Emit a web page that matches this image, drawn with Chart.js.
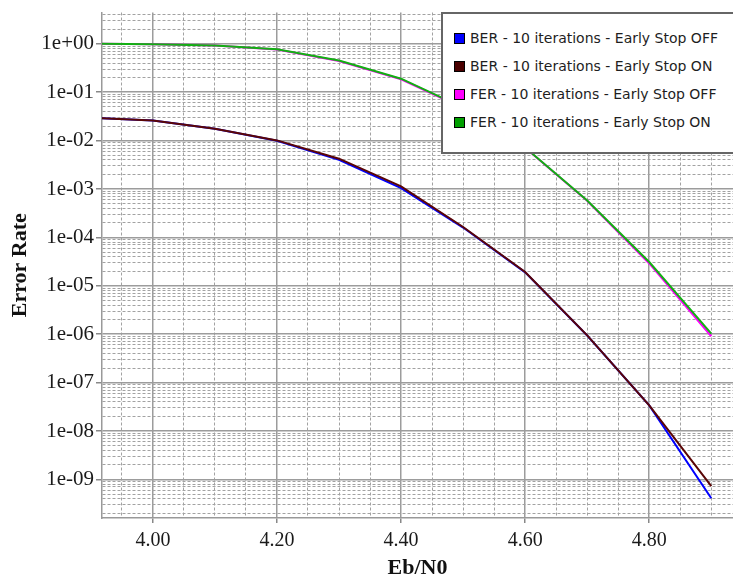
<!DOCTYPE html>
<html>
<head>
<meta charset="utf-8">
<script src="https://cdn.jsdelivr.net/npm/chart.js@4.4.1/dist/chart.umd.min.js"></script>
<style>
  body { margin: 0; background: #fff; overflow: hidden; }
  #wrap { position: relative; width: 733px; height: 579px; overflow: hidden; }
  #legend {
    position: absolute; left: 441px; top: 12px; width: 300px; height: 142px;
    background: #fff; border: 2px solid #666; box-sizing: border-box;
    font-family: 'DejaVu Sans', sans-serif; font-size: 14px; color: #1e1e1e;
  }
  .item { position: absolute; left: 11px; height: 16px; line-height: 16px; white-space: nowrap; }
  .box { display: inline-block; width: 9px; height: 9px; border: 1px solid #000; vertical-align: -1px; margin-right: 5px; }
</style>
</head>
<body>
<div id="wrap">
  <canvas id="errChart" width="733" height="579"></canvas>
  <div id="legend"></div>
</div>
<script>
// Eb/N0 points (dB)
const ebn0 = [3.9, 4.0, 4.1, 4.2, 4.3, 4.4, 4.5, 4.6, 4.7, 4.8, 4.9]
// error rates
const berOff = [0.0298, 0.0261, 0.0176, 0.0099, 0.0040, 0.00104, 1.6e-4, 1.9e-5, 9.4e-7, 3.4e-8, 4.1e-10]
const berOn  = [0.0298, 0.0261, 0.0176, 0.0101, 0.00423, 0.00113, 1.64e-4, 1.93e-5, 9.5e-7, 3.4e-8, 7.3e-10]
const ferOff = [1.0, 0.98, 0.92, 0.76, 0.44, 0.185, 0.047, 0.0071, 5.7e-4, 2.9e-5, 9.1e-7]
const ferOn  = [1.0, 0.98, 0.92, 0.77, 0.45, 0.19, 0.048, 0.0072, 5.8e-4, 3.1e-5, 1.03e-6]

const seriesNames = [
  'BER - 10 iterations - Early Stop OFF',
  'BER - 10 iterations - Early Stop ON',
  'FER - 10 iterations - Early Stop OFF',
  'FER - 10 iterations - Early Stop ON'
]
const seriesColors = ['#0000ff', '#5a0606', '#ff00ff', '#12b012']
const legendColors = ['#0000ff', '#4a0000', '#ff00ff', '#00a000']

// axis ticks
const xLabelled = [4.0, 4.2, 4.4, 4.6, 4.8]
const xGridTicks = [3.95, 4.0, 4.05, 4.1, 4.15, 4.2, 4.25, 4.3, 4.35, 4.4, 4.45, 4.5, 4.55, 4.6, 4.65, 4.7, 4.75, 4.8, 4.85, 4.9]
const yDecades = [0, -1, -2, -3, -4, -5, -6, -7, -8, -9, -10]
const yMin = 1.6e-10
const yMax = 4.43

function toPoints(ys) {
  return ys.map((y, i) => ({ x: ebn0[i], y: y }))
}

function isDecade(v) {
  const l = Math.log10(v)
  return Math.abs(l - Math.round(l)) < 1e-6
}
function isLabelledX(v) {
  return xLabelled.some(t => Math.abs(t - v) < 1e-6)
}

const allSeries = [berOff, berOn, ferOff, ferOn]
const datasets = allSeries.map((ys, i) => ({
  label: seriesNames[i],
  data: toPoints(ys),
  borderColor: seriesColors[i],
  backgroundColor: seriesColors[i],
  borderWidth: 2,
  pointRadius: 0,
  tension: 0,
  // "ON" curves sit on top of the "OFF" ones
  order: (i % 2 == 1) ? 0 : 1
}))

const gridSolid = '#9c9c9c'
const gridDash = '#a2a2a2'

let errChart = new Chart(document.getElementById('errChart').getContext('2d'), {
  type: 'line',
  data: { datasets: datasets },
  options: {
    responsive: false,
    animation: false,
    devicePixelRatio: 1,
    layout: { padding: { top: 12, right: 0, left: 0, bottom: 0 } },
    plugins: { legend: { display: false }, tooltip: { enabled: false } },
    scales: {
      x: {
        type: 'linear',
        min: 3.918,
        max: 4.935,
        afterBuildTicks: (scale) => { scale.ticks = xGridTicks.map(v => ({ value: v })) },
        afterFit: (scale) => { scale.height = 61 },
        ticks: {
          autoSkip: false,
          maxRotation: 0,
          padding: 6,
          color: '#1a1a1a',
          font: { family: 'Liberation Serif', size: 20 },
          callback: (v) => isLabelledX(v) ? v.toFixed(2) : ''
        },
        grid: {
          color: (ctx) => ctx.tick && isLabelledX(ctx.tick.value) ? gridSolid : gridDash,
          lineWidth: (ctx) => ctx.tick && isLabelledX(ctx.tick.value) ? 1.5 : 1,
          tickLength: 5,
          tickColor: (ctx) => ctx.tick && isLabelledX(ctx.tick.value) ? '#888' : 'rgba(0,0,0,0)'
        },
        border: {
          color: '#999',
          width: 1.5,
          dash: (ctx) => (ctx.tick && !isLabelledX(ctx.tick.value)) ? [3, 2] : []
        },
        title: {
          display: true,
          text: 'Eb/N0',
          color: '#111',
          font: { family: 'Liberation Serif', size: 22, weight: 'bold', lineHeight: 1 },
          padding: { top: 0, bottom: 0 }
        }
      },
      y: {
        type: 'logarithmic',
        min: yMin,
        max: yMax,
        afterBuildTicks: (scale) => {
          const t = []
          yDecades.forEach(e => {
            for (let k = 1; k <= 9; k++) {
              const v = k * Math.pow(10, e)
              if (v > yMin && v < yMax) t.push({ value: v })
            }
          })
          t.sort((a, b) => a.value - b.value)
          scale.ticks = t
        },
        afterFit: (scale) => { scale.width = 102 },
        ticks: {
          autoSkip: false,
          padding: 2,
          color: '#1a1a1a',
          font: { family: 'Liberation Serif', size: 21, lineHeight: 1 },
          callback: (v) => {
            if (!isDecade(v)) return ''
            const e = Math.round(Math.log10(v))
            if (e < -9) return ''
            return '1e' + (e < 0 ? '-' : '+') + String(Math.abs(e)).padStart(2, '0')
          }
        },
        grid: {
          color: (ctx) => ctx.tick && isDecade(ctx.tick.value) ? gridSolid : gridDash,
          lineWidth: (ctx) => ctx.tick && isDecade(ctx.tick.value) ? 1.5 : 1,
          tickLength: 6,
          tickColor: (ctx) => ctx.tick && isDecade(ctx.tick.value) && ctx.tick.value > 5e-10 ? '#888' : 'rgba(0,0,0,0)'
        },
        border: {
          color: '#999',
          width: 1.5,
          dash: (ctx) => (ctx.tick && !isDecade(ctx.tick.value)) ? [3, 2] : []
        },
        title: {
          display: true,
          text: 'Error Rate',
          color: '#111',
          font: { family: 'Liberation Serif', size: 22, weight: 'bold' },
          padding: { top: 7, bottom: 0 }
        }
      }
    }
  }
})

// legend box drawn over the plot, like the original
const legendDiv = document.querySelector('#legend')
seriesNames.forEach((name, i) => {
  const row = document.createElement('DIV')
  row.className = 'item'
  row.style.top = (16 + i * 28) + 'px'
  const sw = document.createElement('SPAN')
  sw.className = 'box'
  sw.style.backgroundColor = legendColors[i]
  row.appendChild(sw)
  row.appendChild(document.createTextNode(name))
  legendDiv.appendChild(row)
})
</script>
</body>
</html>
